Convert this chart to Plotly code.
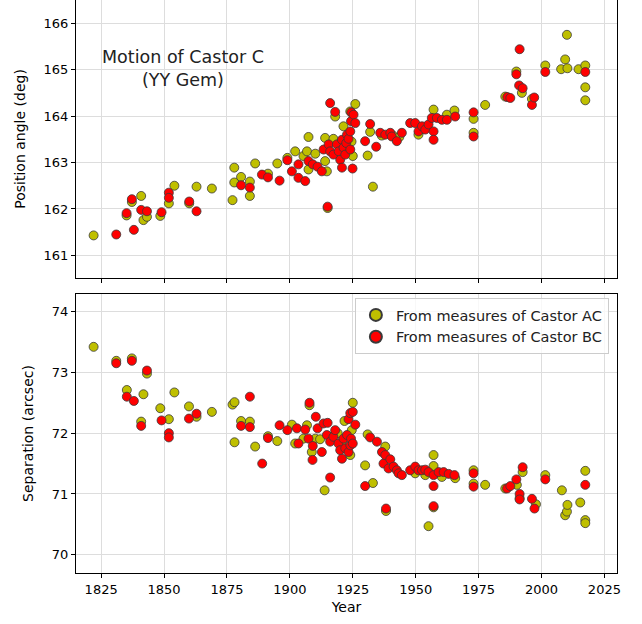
import plotly.graph_objects as go
from plotly.subplots import make_subplots

# --- position angle, measured from Castor A (AC) ---
ac_pa_year = [1822.0, 1835.1, 1837.2, 1840.9, 1841.8, 1843.2, 1848.5, 1851.9, 1854.1, 1860.0,
              1862.9, 1869.0, 1877.2, 1877.9, 1877.9, 1880.6, 1884.1, 1884.1, 1886.2, 1891.3,
              1895.0, 1899.0, 1902.1, 1905.4, 1906.8, 1907.4, 1907.4, 1910.1, 1914.0, 1914.0,
              1914.7, 1915.0, 1917.3, 1918.0, 1919.5, 1921.3, 1922.5, 1924.0, 1924.5, 1925.0,
              1926.0, 1930.9, 1931.9, 1933.0, 1936.5, 1941.0, 1943.5, 1951.1, 1953.0, 1957.1,
              1962.4, 1965.4, 1973.0, 1973.0, 1977.6, 1985.6, 1990.0, 1992.2, 1996.2, 2001.5,
              2007.8, 2009.4, 2010.1, 2010.3, 2014.7, 2017.4, 2017.4, 2017.4]
ac_pa = [161.43, 161.86, 162.15, 162.28, 161.76, 161.83, 161.85, 162.12, 162.50, 162.12,
         162.48, 162.44, 162.19, 162.89, 162.57, 162.69, 162.59, 162.28, 162.98, 162.76,
         162.98, 163.10, 163.24, 163.14, 163.24, 163.55, 162.85, 163.19, 163.53, 163.03,
         162.81, 162.02, 163.51, 163.99, 163.40, 163.78, 163.30, 164.10, 163.45, 163.14,
         164.26, 163.15, 163.66, 162.48, 163.58, 163.58, 163.55, 163.60, 163.72, 164.14,
         164.03, 164.12, 163.94, 163.64, 164.24, 164.42, 164.96, 164.50, 164.37, 165.09,
         165.01, 165.22, 165.75, 165.03, 165.01, 165.09, 164.62, 164.34]

# --- position angle, measured from Castor B (BC) ---
bc_pa_year = [1831.0, 1835.1, 1837.2, 1838.0, 1840.9, 1843.2, 1849.0, 1851.9, 1851.9, 1860.0,
              1862.9, 1880.6, 1884.1, 1888.9, 1891.3, 1895.9, 1899.0, 1900.8, 1903.4, 1903.4,
              1906.1, 1907.4, 1909.1, 1911.0, 1912.7, 1913.4, 1915.0, 1915.4, 1916.0, 1916.0,
              1917.3, 1918.0, 1918.7, 1919.4, 1920.0, 1920.7, 1920.7, 1921.3, 1922.0, 1922.4,
              1922.7, 1923.3, 1924.0, 1924.0, 1924.3, 1924.4, 1924.9, 1925.3, 1926.0, 1929.9,
              1931.9, 1934.3, 1935.9, 1937.9, 1939.9, 1940.5, 1942.5, 1944.5, 1947.8, 1949.8,
              1951.1, 1952.5, 1953.8, 1955.1, 1956.4, 1957.1, 1957.1, 1958.4, 1960.4, 1962.4,
              1965.7, 1973.0, 1973.0, 1986.4, 1987.6, 1990.0, 1991.1, 1991.3, 1992.5, 1996.2,
              1997.1, 2001.5, 2017.4]
bc_pa = [161.45, 161.91, 162.21, 161.55, 161.98, 161.95, 161.93, 162.35, 162.24, 162.16,
         161.95, 162.51, 162.46, 162.74, 162.68, 162.61, 163.05, 162.81, 162.96, 162.67,
         162.60, 163.03, 162.96, 162.91, 162.81, 163.28, 162.05, 163.39, 164.28, 163.24,
         163.17, 164.09, 163.39, 163.24, 163.06, 163.49, 162.89, 163.32, 163.17, 163.42,
         163.60, 163.51, 163.67, 163.28, 163.89, 164.08, 162.87, 164.03, 163.85, 163.46,
         163.83, 163.34, 163.64, 163.60, 163.64, 163.56, 163.46, 163.64, 163.85, 163.85,
         163.67, 163.78, 163.71, 163.82, 163.96, 163.67, 163.49, 163.96, 163.92, 163.92,
         163.99, 164.08, 163.56, 164.41, 164.39, 164.90, 164.66, 165.44, 164.60, 164.24,
         164.40, 164.95, 164.95]

# --- separation, measured from Castor A (AC) ---
ac_sep_year = [1822.0, 1831.0, 1837.2, 1843.2, 1835.2, 1841.8, 1840.9, 1848.5, 1851.9, 1854.1,
               1859.9, 1862.9, 1869.0, 1877.2, 1878.0, 1878.0, 1880.6, 1884.1, 1886.2, 1891.3,
               1895.0, 1900.8, 1902.1, 1905.4, 1906.8, 1907.8, 1908.7, 1910.1, 1912.0, 1913.8,
               1917.0, 1919.0, 1920.7, 1921.7, 1924.0, 1924.6, 1925.0, 1929.9, 1930.9, 1933.0,
               1937.9, 1938.2, 1949.8, 1953.8, 1955.1, 1957.1, 1957.1, 1957.1, 1960.4, 1965.7,
               1973.0, 1973.0, 1977.6, 1985.6, 1990.2, 1991.3, 1992.5, 1997.8, 2001.5, 2008.1,
               2009.4, 2010.1, 2010.3, 2015.4, 2017.4, 2017.4, 2017.4]
ac_sep = [73.42, 73.19, 73.23, 72.98, 72.71, 72.64, 72.19, 72.41, 72.23, 72.67,
          72.44, 72.27, 72.35, 72.47, 72.51, 71.85, 72.20, 72.19, 71.78, 71.95,
          71.87, 72.14, 71.83, 71.91, 72.13, 72.46, 71.69, 71.91, 71.90, 71.06,
          71.95, 72.00, 71.86, 72.20, 71.64, 72.05, 72.50, 71.47, 71.98, 71.18,
          71.78, 70.72, 71.34, 71.31, 70.47, 71.64, 71.46, 70.78, 71.28, 71.26,
          71.39, 71.17, 71.15, 71.09, 71.15, 70.93, 71.36, 70.83, 71.31, 71.06,
          70.65, 70.71, 70.82, 70.86, 71.38, 70.57, 70.52]

# --- separation, measured from Castor B (BC) ---
bc_sep_year = [1831.0, 1837.2, 1843.2, 1835.2, 1838.0, 1840.9, 1849.0, 1851.9, 1851.9, 1859.9,
               1862.9, 1880.6, 1884.1, 1884.1, 1889.0, 1891.3, 1895.9, 1899.0, 1902.8, 1903.4,
               1906.1, 1907.4, 1907.8, 1909.0, 1909.1, 1910.3, 1911.0, 1912.7, 1913.4, 1914.7,
               1915.0, 1916.0, 1916.0, 1917.3, 1918.0, 1919.3, 1920.0, 1920.7, 1921.3, 1922.0,
               1922.7, 1923.3, 1923.3, 1924.0, 1924.0, 1924.3, 1925.0, 1925.0, 1926.0, 1929.9,
               1931.9, 1934.6, 1936.6, 1937.2, 1937.9, 1938.2, 1939.2, 1939.9, 1941.2, 1942.5,
               1943.2, 1944.5, 1947.8, 1949.8, 1951.1, 1952.5, 1953.8, 1955.1, 1957.1, 1957.1,
               1957.1, 1959.1, 1961.1, 1963.1, 1965.4, 1973.0, 1973.0, 1986.3, 1987.6, 1990.0,
               1991.3, 1991.3, 1992.5, 1996.2, 1997.2, 2001.5, 2017.4]
bc_sep = [73.15, 73.19, 73.03, 72.60, 72.53, 72.12, 72.21, 72.00, 71.93, 72.24,
          72.32, 72.12, 72.60, 72.10, 71.50, 71.92, 72.13, 72.05, 72.08, 71.83,
          72.06, 71.91, 72.50, 71.56, 71.79, 72.27, 72.08, 71.69, 72.16, 71.97,
          72.17, 71.27, 71.86, 71.94, 72.05, 71.83, 71.72, 71.58, 71.91, 71.75,
          71.97, 71.69, 72.23, 72.33, 71.80, 71.91, 72.35, 71.83, 72.14, 71.13,
          71.93, 71.86, 71.69, 71.50, 71.64, 70.76, 71.42, 71.57, 71.45, 71.39,
          71.34, 71.31, 71.39, 71.45, 71.39, 71.39, 71.40, 71.36, 71.31, 71.13,
          70.80, 71.36, 71.36, 71.33, 71.31, 71.34, 71.12, 71.09, 71.13, 71.24,
          71.00, 70.91, 71.44, 70.92, 70.76, 71.24, 71.15]

OLIVE = '#bfbf00'
RED = '#ff0000'
EDGE = '#3a3a3a'
FONT = 'DejaVu Sans'

fig = make_subplots(rows=2, cols=1, shared_xaxes=True)

def dots(x, y, color, name, show):
    return go.Scatter(x=x, y=y, mode='markers', name=name, showlegend=show,
                      marker=dict(size=9, color=color, line=dict(color=EDGE, width=0.8)))

fig.add_trace(dots(ac_pa_year, ac_pa, OLIVE, 'From measures of Castor AC', False), row=1, col=1)
fig.add_trace(dots(bc_pa_year, bc_pa, RED, 'From measures of Castor BC', False), row=1, col=1)
fig.add_trace(dots(ac_sep_year, ac_sep, OLIVE, 'From measures of Castor AC', True), row=2, col=1)
fig.add_trace(dots(bc_sep_year, bc_sep, RED, 'From measures of Castor BC', True), row=2, col=1)

axis_style = dict(showline=True, linecolor='black', linewidth=1, mirror=True,
                  ticks='outside', ticklen=4, tickcolor='black',
                  showgrid=True, gridcolor='#dddddd', gridwidth=1, zeroline=False,
                  tickfont=dict(family=FONT, size=13, color='black'))
title_font = dict(family=FONT, size=14, color='black')

fig.update_xaxes(**axis_style, range=[1815, 2030], tickvals=[1825, 1850, 1875, 1900, 1925, 1950, 1975, 2000, 2025])
fig.update_xaxes(showticklabels=False, row=1, col=1)
fig.update_xaxes(title=dict(text='Year', font=title_font, standoff=6), row=2, col=1)
fig.update_yaxes(**axis_style)
fig.update_yaxes(range=[160.515, 166.5], dtick=1, domain=[0.515, 1.0],
                 title=dict(text='Position angle (deg)', font=title_font, standoff=14),
                 row=1, col=1)
fig.update_yaxes(range=[69.7, 74.29], dtick=1, domain=[0.0, 0.487],
                 title=dict(text='Separation (arcsec)', font=title_font, standoff=14),
                 row=2, col=1)

fig.add_annotation(x=1857.4, y=165.02, xref='x', yref='y', showarrow=False,
                   text='Motion of Castor C<br>(YY Gem)', align='center',
                   font=dict(family=FONT, size=17.5, color='#222222'))

fig.update_layout(
    width=642, height=624,
    margin=dict(l=76, r=25, t=0, b=51),
    plot_bgcolor='white', paper_bgcolor='white',
    font=dict(family=FONT, size=13, color='black'),
    legend=dict(x=0.985, y=0.480, xanchor='right', yanchor='top',
                bgcolor='rgba(255,255,255,0.8)', bordercolor='#cccccc', borderwidth=1,
                font=dict(family=FONT, size=14.5, color='#222222'),
                itemsizing='constant'),
)

# page body has a default margin; drop it so the figure sits at the window origin
fig.write_html("out.html", config={'displayModeBar': False},
               post_script="document.body.style.margin='0';")
